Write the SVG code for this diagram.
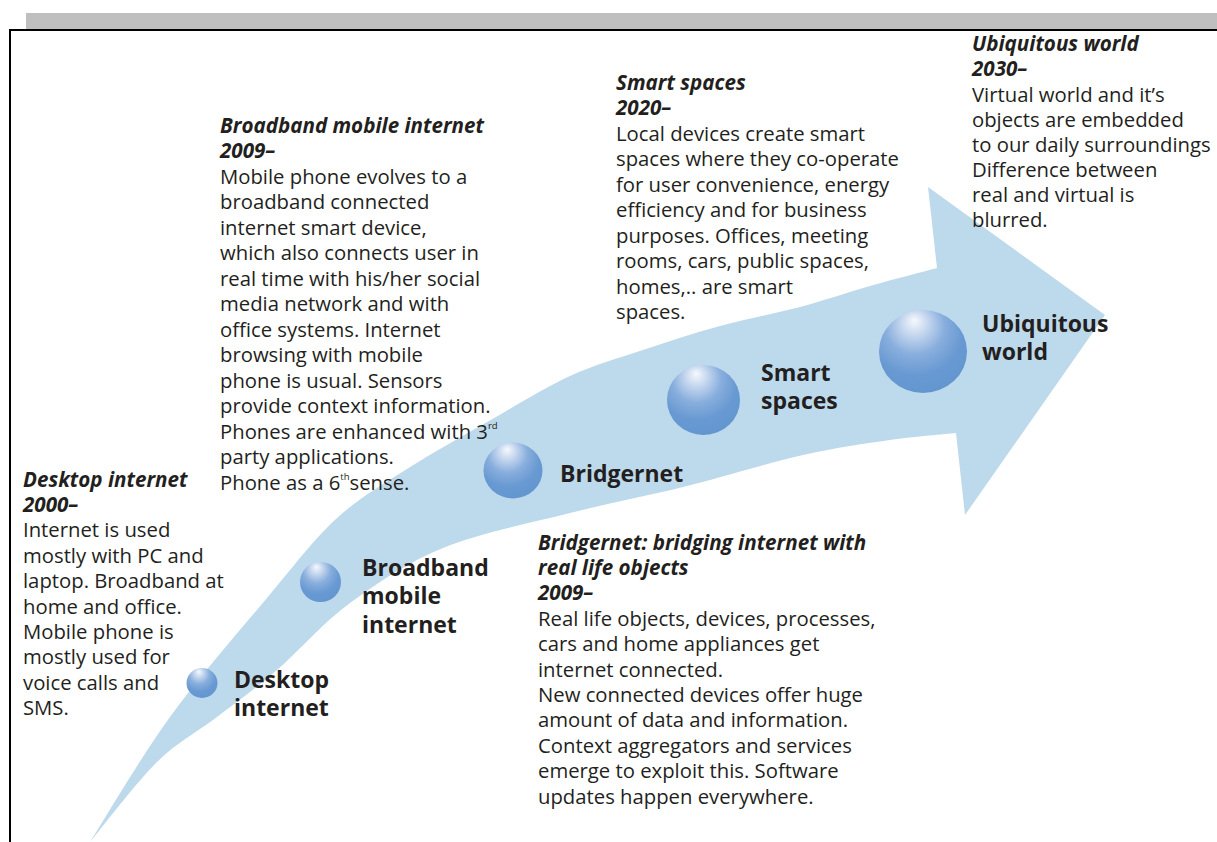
<svg xmlns="http://www.w3.org/2000/svg" width="1217" height="842" viewBox="0 0 1217 842">
  <defs>
    <radialGradient id="sphere" cx="0.42" cy="0.3" r="0.75" fx="0.4" fy="0.12">
      <stop offset="0" stop-color="#f6f9fd"/>
      <stop offset="0.12" stop-color="#d9e4f4"/>
      <stop offset="0.45" stop-color="#88aedd"/>
      <stop offset="0.72" stop-color="#6899d2"/>
      <stop offset="1" stop-color="#6295ce"/>
    </radialGradient>
    <style>
      .lbl { font-family: "Open Sans", "Liberation Sans", sans-serif; font-weight: 700; font-size: 23px; fill: #231f20; }
      .hd { font-family: "Open Sans", "Liberation Sans", sans-serif; font-weight: 700; font-style: italic; font-size: 20.6px; fill: #231f20; }
      .tx { font-family: "Open Sans", "Liberation Sans", sans-serif; font-size: 20.3px; fill: #231f20; }
      .sup { font-size: 9.5px; }
      .ball { fill: url(#sphere); }
    </style>
  </defs>

  <rect width="1217" height="842" fill="#ffffff"/>

  <!-- page frame -->
  <rect x="26" y="13" width="1191" height="16" fill="#bfbfbf"/>
  <path d="M10,842 V30 H1217" fill="none" stroke="#000000" stroke-width="2"/>

  <!-- curved timeline arrow -->
  <g id="connectors">
    <path fill="#bdd9ec" d="M90,842
      C103.3,821.2 140.5,757.7 170,717
      C199.5,676.3 239.3,631 267,598
      C294.7,565 312.7,540.5 336,519
      C359.3,497.5 381.5,485.3 407,469
      C432.5,452.7 461.8,436.5 489,421
      C516.2,405.5 544.3,387.8 570,376
      C595.7,364.2 618,358.3 643,350
      C668,341.7 693.8,333.2 720,326
      C746.2,318.8 775,313.7 800,307
      C825,300.3 847.2,292.5 870,286
      C892.8,279.5 925.8,271 937,268
      L928,187 L1105,315 L965,515 L956,433
      C945,434.2 915.5,436.3 890,440
      C864.5,443.7 837.5,447.2 803,455
      C768.5,462.8 721.8,477.3 683,487
      C644.2,496.7 610,502.8 570,513
      C530,523.2 479.7,533 443,548
      C406.3,563 377.7,582.7 350,603
      C322.3,623.3 299.2,651 277,670
      C254.8,689 237,701.7 217,717
      C197,732.3 178.2,741.2 157,762
      C135.8,782.8 101.2,828.7 90,842 Z"/>
  </g>

  <!-- milestones on the arrow -->
  <g id="node-desktop">
    <ellipse class="ball" cx="202" cy="683" rx="15.5" ry="15"/>
    <text class="lbl" x="234" y="687.5">Desktop</text>
    <text class="lbl" x="234" y="716">internet</text>
  </g>
  <g id="node-broadband">
    <ellipse class="ball" cx="320.5" cy="582" rx="20.5" ry="20"/>
    <text class="lbl" x="362" y="575.5">Broadband</text>
    <text class="lbl" x="362" y="604">mobile</text>
    <text class="lbl" x="362" y="633">internet</text>
  </g>
  <g id="node-bridgernet">
    <ellipse class="ball" cx="513" cy="470.5" rx="29.5" ry="28"/>
    <text class="lbl" x="560" y="482">Bridgernet</text>
  </g>
  <g id="node-smart">
    <ellipse class="ball" cx="703.5" cy="400" rx="36.5" ry="35"/>
    <text class="lbl" x="761" y="381">Smart</text>
    <text class="lbl" x="761" y="409">spaces</text>
  </g>
  <g id="node-ubiquitous">
    <ellipse class="ball" cx="923" cy="351.5" rx="44" ry="41.5"/>
    <text class="lbl" x="982" y="331.5">Ubiquitous</text>
    <text class="lbl" x="982" y="359.5">world</text>
  </g>

  <!-- era descriptions -->
  <g id="desc-desktop">
    <text class="hd" x="23" y="486.5">Desktop internet</text>
    <text class="hd" x="23" y="511.9">2000–</text>
    <text class="tx" x="23" y="537.3">Internet is used</text>
    <text class="tx" x="23" y="562.7">mostly with PC and</text>
    <text class="tx" x="23" y="588.1">laptop. Broadband at</text>
    <text class="tx" x="23" y="613.5">home and office.</text>
    <text class="tx" x="23" y="638.9">Mobile phone is</text>
    <text class="tx" x="23" y="664.3">mostly used for</text>
    <text class="tx" x="23" y="689.7">voice calls and</text>
    <text class="tx" x="23" y="715.1">SMS.</text>
  </g>

  <g id="desc-broadband">
    <text class="hd" x="220" y="132.5">Broadband mobile internet</text>
    <text class="hd" x="220" y="158">2009–</text>
    <text class="tx" x="220" y="183.5">Mobile phone evolves to a</text>
    <text class="tx" x="220" y="209">broadband connected</text>
    <text class="tx" x="220" y="234.5">internet smart device,</text>
    <text class="tx" x="220" y="260">which also connects user in</text>
    <text class="tx" x="220" y="285.5">real time with his/her social</text>
    <text class="tx" x="220" y="311">media network and with</text>
    <text class="tx" x="220" y="336.5">office systems. Internet</text>
    <text class="tx" x="220" y="362">browsing with mobile</text>
    <text class="tx" x="220" y="387.5">phone is usual. Sensors</text>
    <text class="tx" x="220" y="413">provide context information.</text>
    <text class="tx" x="220" y="438.5">Phones are enhanced with 3<tspan class="sup" dy="-10">rd</tspan></text>
    <text class="tx" x="220" y="464">party applications.</text>
    <text class="tx" x="220" y="490">Phone as a 6<tspan class="sup" dy="-10">th</tspan><tspan dy="10">sense.</tspan></text>
  </g>

  <g id="desc-smart">
    <text class="hd" x="616" y="89.5">Smart spaces</text>
    <text class="hd" x="616" y="115">2020–</text>
    <text class="tx" x="616" y="140.5">Local devices create smart</text>
    <text class="tx" x="616" y="166">spaces where they co-operate</text>
    <text class="tx" x="616" y="191.5">for user convenience, energy</text>
    <text class="tx" x="616" y="217">efficiency and for business</text>
    <text class="tx" x="616" y="242.5">purposes. Offices, meeting</text>
    <text class="tx" x="616" y="268">rooms, cars, public spaces,</text>
    <text class="tx" x="616" y="293.5">homes,.. are smart</text>
    <text class="tx" x="616" y="319">spaces.</text>
  </g>

  <g id="desc-ubiquitous">
    <text class="hd" x="972" y="50.5">Ubiquitous world</text>
    <text class="hd" x="972" y="76">2030–</text>
    <text class="tx" x="972" y="101.5">Virtual world and it’s</text>
    <text class="tx" x="972" y="126.5">objects are embedded</text>
    <text class="tx" x="972" y="151.5">to our daily surroundings</text>
    <text class="tx" x="972" y="176.5">Difference between</text>
    <text class="tx" x="972" y="202">real and virtual is</text>
    <text class="tx" x="972" y="227">blurred.</text>
  </g>

  <g id="desc-bridgernet">
    <text class="hd" x="538" y="549.5">Bridgernet: bridging internet with</text>
    <text class="hd" x="538" y="574.9">real life objects</text>
    <text class="hd" x="538" y="600.3">2009–</text>
    <text class="tx" x="538" y="625.7">Real life objects, devices, processes,</text>
    <text class="tx" x="538" y="651.1">cars and home appliances get</text>
    <text class="tx" x="538" y="676.5">internet connected.</text>
    <text class="tx" x="538" y="701.9">New connected devices offer huge</text>
    <text class="tx" x="538" y="727.3">amount of data and information.</text>
    <text class="tx" x="538" y="752.7">Context aggregators and services</text>
    <text class="tx" x="538" y="778.1">emerge to exploit this. Software</text>
    <text class="tx" x="538" y="803.5">updates happen everywhere.</text>
  </g>
</svg>
